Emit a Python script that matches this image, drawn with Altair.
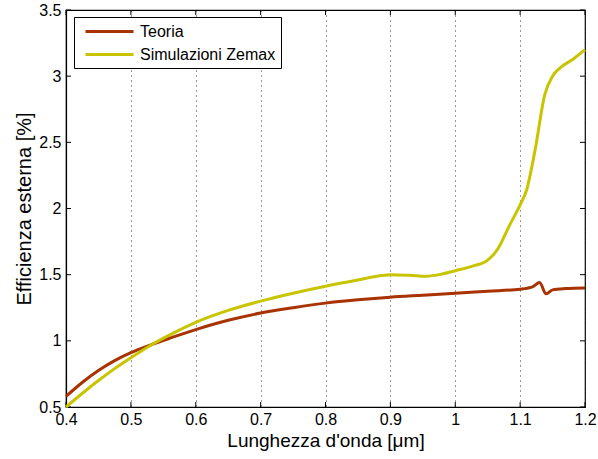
import altair as alt
import pandas as pd

# --- data ---
x_teoria = [0.40, 0.425, 0.45, 0.475, 0.50, 0.53, 0.56, 0.60, 0.65, 0.70, 0.75, 0.80,
            0.85, 0.90, 0.95, 1.00, 1.05, 1.10, 1.12, 1.13, 1.14, 1.15, 1.17, 1.20]
y_teoria = [0.58, 0.685, 0.775, 0.85, 0.91, 0.968, 1.02, 1.085, 1.155, 1.21, 1.25, 1.285,
            1.31, 1.33, 1.345, 1.36, 1.375, 1.39, 1.41, 1.44, 1.355, 1.385, 1.395, 1.40]

x_zemax = [0.40, 0.45, 0.475, 0.50, 0.53, 0.56, 0.60, 0.65, 0.70, 0.75, 0.80,
           0.85, 0.875, 0.90, 0.93, 0.955, 0.98, 1.00, 1.028, 1.05, 1.065, 1.084, 1.10,
           1.11, 1.123, 1.138, 1.15, 1.161, 1.182, 1.20]
y_zemax = [0.50, 0.70, 0.79, 0.872, 0.965, 1.045, 1.14, 1.23, 1.30, 1.36, 1.413,
           1.46, 1.485, 1.50, 1.495, 1.488, 1.505, 1.53, 1.566, 1.61, 1.69, 1.876, 2.027,
           2.14, 2.44, 2.86, 3.00, 3.06, 3.13, 3.20]

series_names = ["Teoria", "Simulazioni Zemax"]
series_colors = ["#a83200", "#c8c400"]

x_ticks = [0.4, 0.5, 0.6, 0.7, 0.8, 0.9, 1.0, 1.1, 1.2]
y_ticks = [0.5, 1.0, 1.5, 2.0, 2.5, 3.0, 3.5]

W, H = 519, 397
FONT = "Liberation Sans"

df = pd.DataFrame(
    [{"x": a, "y": b, "serie": series_names[0], "o": i} for i, (a, b) in enumerate(zip(x_teoria, y_teoria))]
    + [{"x": a, "y": b, "serie": series_names[1], "o": i} for i, (a, b) in enumerate(zip(x_zemax, y_zemax))]
)
xt = pd.DataFrame({"v": x_ticks})
yt = pd.DataFrame({"v": y_ticks})

xscale = alt.Scale(domain=[0.4, 1.2], nice=False, zero=False)
yscale = alt.Scale(domain=[0.5, 3.5], nice=False, zero=False)

lines = alt.Chart(df).mark_line(strokeWidth=3, interpolate="monotone").encode(
    x=alt.X("x:Q", scale=xscale,
            axis=alt.Axis(values=x_ticks, format=".1~f", title="Lunghezza d'onda [μm]",
                          grid=True, gridDash=[1, 4], gridColor="#333333", gridWidth=1,
                          tickSize=0, labelPadding=4, titlePadding=4, labelFlush=False,
                          labelOverlap=False)),
    y=alt.Y("y:Q", scale=yscale,
            axis=alt.Axis(values=y_ticks, format=".1~f", title="Efficienza esterna [%]",
                          grid=False, tickSize=0, labelPadding=5, titlePadding=4,
                          titleFontSize=20, labelFlush=False, labelOverlap=False)),
    color=alt.Color("serie:N", sort=series_names,
                    scale=alt.Scale(domain=series_names, range=series_colors),
                    legend=alt.Legend(title=None, orient="none", legendX=8, legendY=7,
                                      symbolType="M-3,0H3", symbolSize=256,
                                      symbolStrokeWidth=3, labelFont=FONT,
                                      labelFontSize=16, labelColor="black",
                                      strokeColor="black", fillColor="white",
                                      padding=5, rowPadding=5, labelOffset=21,
                                      symbolOffset=21, labelLimit=300)),
    order="o:Q",
)

tick_b = alt.Chart(xt).mark_rule(color="black", strokeWidth=1).encode(
    x=alt.X("v:Q", scale=xscale), y=alt.value(H), y2=alt.value(H - 5))
tick_t = alt.Chart(xt).mark_rule(color="black", strokeWidth=1).encode(
    x=alt.X("v:Q", scale=xscale), y=alt.value(0), y2=alt.value(5))
tick_l = alt.Chart(yt).mark_rule(color="black", strokeWidth=1).encode(
    y=alt.Y("v:Q", scale=yscale), x=alt.value(0), x2=alt.value(5))
tick_r = alt.Chart(yt).mark_rule(color="black", strokeWidth=1).encode(
    y=alt.Y("v:Q", scale=yscale), x=alt.value(W), x2=alt.value(W - 5))

chart = alt.layer(tick_b, tick_t, tick_l, tick_r, lines).properties(
    width=W, height=H,
    autosize=alt.AutoSizeParams(type="none"),
    padding={"left": 66, "top": 10, "right": 13, "bottom": 52},
    background="white",
).configure_view(
    stroke="black", strokeWidth=1.2
).configure_axis(
    domainColor="black", domainWidth=1.2, labelFont=FONT, labelFontSize=16,
    labelColor="black", titleFont=FONT, titleFontSize=19, titleFontWeight="normal",
    titleColor="black",
).configure_legend(
    labelFont=FONT, labelFontSize=16
)

chart.save("out.html", embed_options={"renderer": "svg", "actions": False})
